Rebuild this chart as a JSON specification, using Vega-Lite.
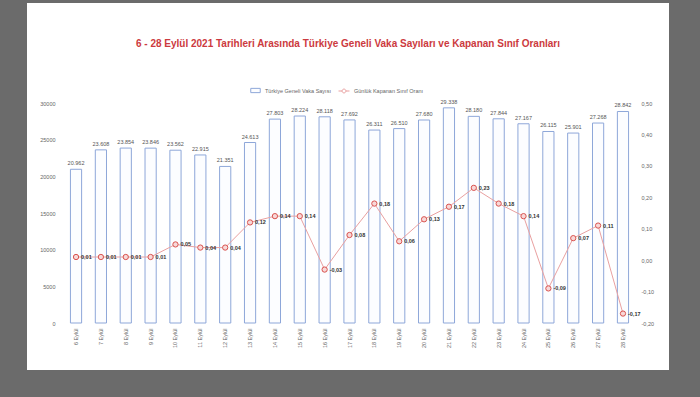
{
  "$schema": "https://vega.github.io/schema/vega-lite/v6.json",
  "autosize": {"type": "none"},
  "width": 642,
  "height": 367,
  "padding": {"left": 27, "top": 3, "right": 31, "bottom": 27},
  "background": "#6b6b6b",
  "title": {
    "text": "6 - 28 Eylül 2021 Tarihleri Arasında Türkiye Geneli Vaka Sayıları ve Kapanan Sınıf Oranları",
    "anchor": "middle",
    "frame": "group",
    "offset": -46,
    "fontSize": 10,
    "font": "Liberation Sans",
    "fontWeight": "bold",
    "color": "#cc3a40"
  },
  "config": {
    "view": {"fill": "#ffffff", "stroke": null},
    "font": "Liberation Sans",
    "locale": {
      "number": {"decimal": ",", "thousands": ".", "grouping": [3], "currency": ["", " ₺"], "minus": "-"}
    }
  },
  "data": {
    "values": [
      {"gun": "6 Eylül", "vaka": 20962, "oran": 0.01},
      {"gun": "7 Eylül", "vaka": 23608, "oran": 0.01},
      {"gun": "8 Eylül", "vaka": 23854, "oran": 0.01},
      {"gun": "9 Eylül", "vaka": 23846, "oran": 0.01},
      {"gun": "10 Eylül", "vaka": 23562, "oran": 0.05},
      {"gun": "11 Eylül", "vaka": 22915, "oran": 0.04},
      {"gun": "12 Eylül", "vaka": 21351, "oran": 0.04},
      {"gun": "13 Eylül", "vaka": 24613, "oran": 0.12},
      {"gun": "14 Eylül", "vaka": 27803, "oran": 0.14},
      {"gun": "15 Eylül", "vaka": 28224, "oran": 0.14},
      {"gun": "16 Eylül", "vaka": 28118, "oran": -0.03},
      {"gun": "17 Eylül", "vaka": 27692, "oran": 0.08},
      {"gun": "18 Eylül", "vaka": 26311, "oran": 0.18},
      {"gun": "19 Eylül", "vaka": 26510, "oran": 0.06},
      {"gun": "20 Eylül", "vaka": 27680, "oran": 0.13},
      {"gun": "21 Eylül", "vaka": 29338, "oran": 0.17},
      {"gun": "22 Eylül", "vaka": 28180, "oran": 0.23},
      {"gun": "23 Eylül", "vaka": 27844, "oran": 0.18},
      {"gun": "24 Eylül", "vaka": 27167, "oran": 0.14},
      {"gun": "25 Eylül", "vaka": 26115, "oran": -0.09},
      {"gun": "26 Eylül", "vaka": 25901, "oran": 0.07},
      {"gun": "27 Eylül", "vaka": 27268, "oran": 0.11},
      {"gun": "28 Eylül", "vaka": 28842, "oran": -0.17}
    ]
  },
  "resolve": {"scale": {"y": "independent"}},
  "layer": [
    {
      "layer": [
        {
          "mark": {"type": "bar", "fill": "#fcfdff", "strokeWidth": 1},
          "encoding": {
            "x": {
              "field": "gun", "type": "ordinal", "sort": null,
              "scale": {"range": [36.6, 608.4], "paddingInner": 0.55, "paddingOuter": 0.275},
              "axis": {"orient": "bottom", "offset": -42, "labelAngle": -90, "ticks": false, "domain": false, "labelPadding": 0, "labelFontSize": 5.5, "labelColor": "#666666", "title": null}
            },
            "y": {
              "field": "vaka", "type": "quantitative",
              "scale": {"domain": [0, 30000], "range": [320, 100], "nice": false},
              "axis": {"orient": "left", "offset": -28, "ticks": false, "domain": false, "grid": false, "labelPadding": 0, "format": "d", "values": [0, 5000, 10000, 15000, 20000, 25000, 30000], "labelFontSize": 5.5, "labelColor": "#666666", "title": null}
            },
            "stroke": {
              "datum": "Türkiye Geneli Vaka Sayısı", "type": "nominal",
              "scale": {"range": ["#8ea7d9"]},
              "legend": {"orient": "none", "legendX": 223, "legendY": 82, "title": null, "symbolType": "M-1,-0.45H1V0.45H-1Z", "symbolSize": 90, "symbolStrokeWidth": 1, "labelFontSize": 5.5, "labelColor": "#666666"}
            }
          }
        },
        {
          "mark": {"type": "text", "dy": -3, "fontSize": 5.5, "color": "#555555", "baseline": "bottom"},
          "encoding": {
            "x": {"field": "gun", "type": "ordinal", "sort": null},
            "y": {"field": "vaka", "type": "quantitative"},
            "text": {"field": "vaka", "type": "quantitative", "format": ",d"}
          }
        }
      ]
    },
    {
      "layer": [
        {
          "mark": {"type": "line", "strokeWidth": 1},
          "encoding": {
            "x": {"field": "gun", "type": "ordinal", "sort": null},
            "y": {
              "field": "oran", "type": "quantitative",
              "scale": {"domain": [-0.2, 0.5], "range": [320, 100], "nice": false},
              "axis": {"orient": "right", "offset": -28, "ticks": false, "domain": false, "grid": false, "labelPadding": 0, "format": ".2f", "values": [-0.2, -0.1, 0, 0.1, 0.2, 0.3, 0.4, 0.5], "labelFontSize": 5.5, "labelColor": "#666666", "title": null}
            },
            "color": {
              "datum": "Günlük Kapanan Sınıf Oranı", "type": "nominal",
              "scale": {"range": ["#e9a0a0"]},
              "legend": {"orient": "none", "legendX": 311, "legendY": 82, "title": null, "symbolType": "M-1,0H-0.35M0.35,0H1M0.35,0A0.35,0.35 0 1 1 -0.35,0A0.35,0.35 0 1 1 0.35,0", "symbolSize": 120, "symbolStrokeWidth": 1, "labelFontSize": 5.5, "labelColor": "#666666"}
            }
          }
        },
        {
          "mark": {"type": "point", "filled": true, "fill": "#f8d8d8", "stroke": "#d9534f", "strokeWidth": 1, "size": 28, "opacity": 1},
          "encoding": {
            "x": {"field": "gun", "type": "ordinal", "sort": null},
            "y": {"field": "oran", "type": "quantitative"}
          }
        },
        {
          "mark": {"type": "text", "dx": 5, "align": "left", "baseline": "middle", "fontSize": 5.5, "fontWeight": "bold", "color": "#333333"},
          "encoding": {
            "x": {"field": "gun", "type": "ordinal", "sort": null},
            "y": {"field": "oran", "type": "quantitative"},
            "text": {"field": "oran", "type": "quantitative", "format": ".2f"}
          }
        }
      ]
    }
  ]
}
